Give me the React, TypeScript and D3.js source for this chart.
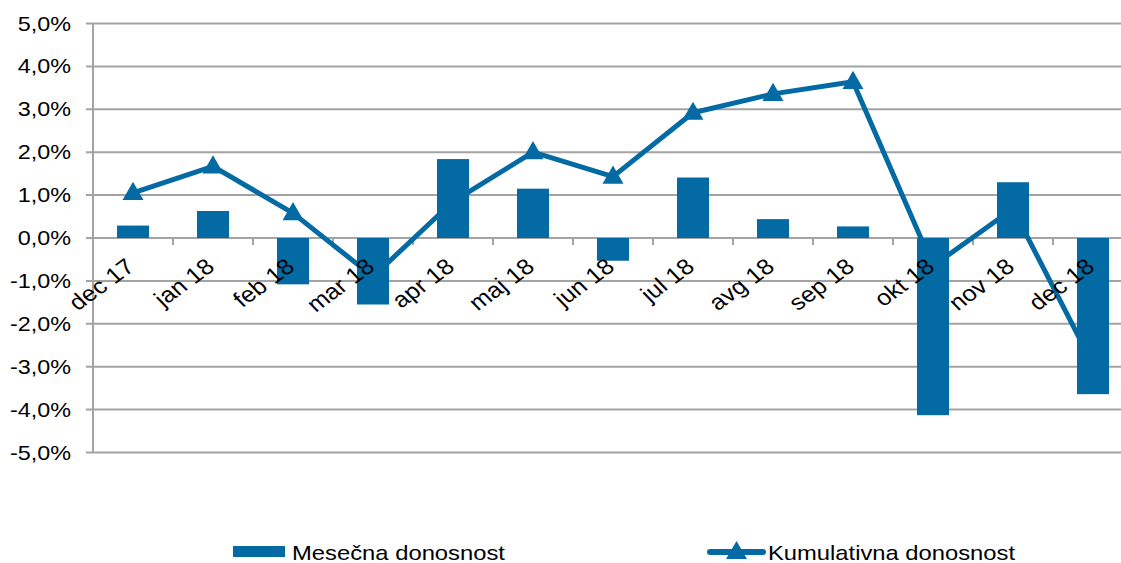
import React from 'react';
import * as d3 from 'd3';

const categories = ['dec 17', 'jan 18', 'feb 18', 'mar 18', 'apr 18', 'maj 18', 'jun 18', 'jul 18', 'avg 18', 'sep 18', 'okt 18', 'nov 18', 'dec 18'];
const monthly = [0.29, 0.63, -1.08, -1.55, 1.84, 1.15, -0.53, 1.41, 0.44, 0.27, -4.13, 1.3, -3.64];
const cumulative = [1.05, 1.67, 0.58, -0.9, 0.85, 2.0, 1.43, 2.92, 3.36, 3.64, -0.65, 0.68, -2.95];
const yTicks = [5, 4, 3, 2, 1, 0, -1, -2, -3, -4, -5];
const seriesNames = ['Mesečna donosnost', 'Kumulativna donosnost'];

const W = 1121;
const H = 563;
const BLUE = '#046aa3';
const GRID = '#a3a3a3';
const FONT = '"Liberation Sans", Arial, sans-serif';

export default function App() {
  const left = 93;
  const step = 80;
  const x = d3
    .scaleBand<string>()
    .domain(categories)
    .range([left, left + step * categories.length])
    .paddingInner(0.6)
    .paddingOuter(0.3);
  const y = d3.scaleLinear().domain([-5, 5]).range([452.5, 23.5]);
  const cx = (c: string) => (x(c) as number) + x.bandwidth() / 2;
  const fmt = (v: number) => `${v.toFixed(1).replace('.', ',')}%`;

  const line = d3
    .line<number>()
    .x((_, i) => cx(categories[i]))
    .y((d) => y(d));

  const tri = d3.symbol().type(d3.symbolTriangle).size(190);
  const xRight = left + step * categories.length;

  return (
    <svg width={W} height={H} style={{ position: 'absolute', left: 0, top: 0, background: '#fff' }} fontFamily={FONT}>
      {yTicks.map((t) => (
        <line key={t} x1={86} x2={xRight} y1={y(t)} y2={y(t)} stroke={GRID} strokeWidth={2} />
      ))}
      <line x1={left} x2={left} y1={y(5)} y2={y(-5)} stroke={GRID} strokeWidth={2} />
      {d3.range(categories.length + 1).map((i) => (
        <line key={i} x1={left + i * step} x2={left + i * step} y1={y(0)} y2={y(0) + 7} stroke={GRID} strokeWidth={2} />
      ))}
      {yTicks.map((t) => (
        <text
          key={t}
          transform={`translate(71,${y(t) + 7}) scale(1.17,1)`}
          textAnchor="end"
          fontSize={20}
          fill="#000"
        >
          {fmt(t)}
        </text>
      ))}
      <path d={line(cumulative) || ''} fill="none" stroke={BLUE} strokeWidth={5} strokeLinejoin="round" />
      {cumulative.map((v, i) => (
        <path key={i} d={tri() || ''} transform={`translate(${cx(categories[i])},${y(v) + 1})`} fill={BLUE} />
      ))}
      {monthly.map((v, i) => (
        <rect
          key={i}
          x={x(categories[i])}
          width={x.bandwidth()}
          y={Math.min(y(v), y(0))}
          height={Math.abs(y(v) - y(0))}
          fill={BLUE}
        />
      ))}
      {categories.map((c) => (
        <text
          key={c}
          transform={`translate(${cx(c) + 3},${269}) scale(1.15,1) rotate(-40)`}
          textAnchor="end"
          fontSize={22}
          fill="#000"
        >
          {c}
        </text>
      ))}
      <rect x={233} y={546} width={52} height={11} fill={BLUE} />
      <text x={292} y={560} fontSize={21} fill="#000" textLength={213} lengthAdjust="spacingAndGlyphs">
        {seriesNames[0]}
      </text>
      <line x1={710} x2={763} y1={552} y2={552} stroke={BLUE} strokeWidth={6} strokeLinecap="round" />
      <path d={tri() || ''} transform="translate(736.5,553)" fill={BLUE} />
      <text x={768} y={560} fontSize={21} fill="#000" textLength={247} lengthAdjust="spacingAndGlyphs">
        {seriesNames[1]}
      </text>
    </svg>
  );
}
